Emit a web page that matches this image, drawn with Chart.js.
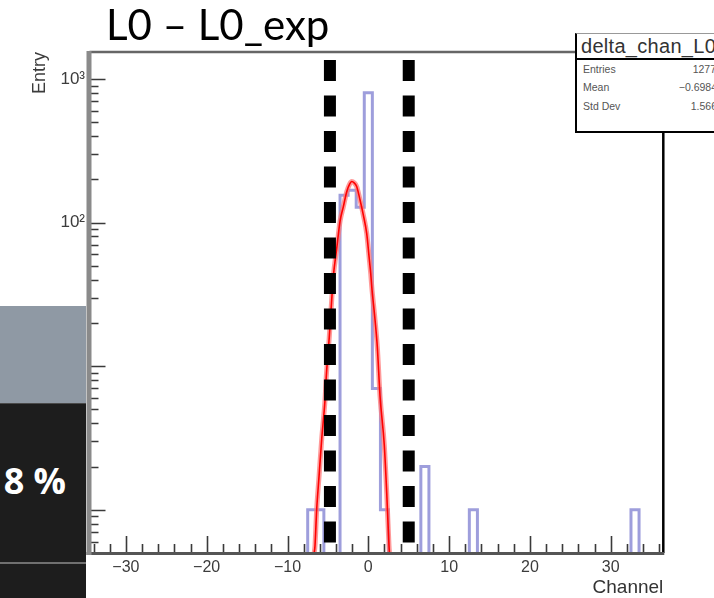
<!DOCTYPE html>
<html><head><meta charset="utf-8">
<script src="https://cdn.jsdelivr.net/npm/chart.js@4.4.0/dist/chart.umd.min.js"></script>
<style>
html,body{margin:0;padding:0;background:#fff;}
#wrap{position:relative;width:714px;height:598px;overflow:hidden;background:#fff;}
#c{position:absolute;left:0;top:0;}
.ov{position:absolute;}
.st{position:absolute;font:10.5px 'Liberation Sans',Arial,sans-serif;color:#555;white-space:nowrap;}
</style></head><body>
<div id="wrap">
<canvas id="c" width="714" height="598"></canvas>
<div class="ov" style="left:106px;top:0px;font:42px Lato,sans-serif;color:#000;line-height:48px;white-space:nowrap;">L0 – L0_exp</div>
<div class="ov" style="left:0;top:306px;width:86px;height:97px;background:#8f99a4;"></div>
<div class="ov" style="left:0;top:403px;width:86px;height:159px;background:#1d1d1d;border-top:1.5px solid #4a4a4a;"></div>
<div class="ov" style="left:0;top:562px;width:86px;height:2px;background:#707070;"></div>
<div class="ov" style="left:0;top:564px;width:86px;height:34px;background:#1d1d1d;"></div>
<div class="ov" style="left:0;top:461px;width:66px;text-align:right;font:bold 36px 'Open Sans',sans-serif;line-height:40px;color:#fff;white-space:nowrap;">8 %</div>
<div class="ov" style="left:575px;top:33px;width:160px;height:97px;background:#fff;border-left:2.5px solid #000;border-bottom:2.5px solid #000;border-top:1.5px solid #999;">
  <div style="position:absolute;left:4px;top:1px;font:20px 'Liberation Sans',Arial,sans-serif;color:#333;white-space:nowrap;letter-spacing:0.3px;">delta_chan_L0</div>
  <div style="position:absolute;left:0;top:24px;width:100%;height:1.5px;background:#000;"></div>
  <div class="st" style="left:6px;top:29px;">Entries</div>
  <div class="st" style="right:21px;top:29px;">1277</div>
  <div class="st" style="left:6px;top:47px;">Mean</div>
  <div class="st" style="right:20px;top:47px;">−0.6984</div>
  <div class="st" style="left:6px;top:66px;">Std Dev</div>
  <div class="st" style="right:20px;top:66px;">1.566</div>
</div>
</div>
<script>
// ---- data ----
const binCenters = [-7, -6, -3, -2, -1, 0, 1, 2, 7, 13, 33];
const binCounts  = [1, 1, 155, 168, 128, 800, 7, 1, 2, 1, 1];
const binWidth = 1;
const fitX = [-6.70,-6.60,-6.39,-6.10,-5.77,-5.36,-5.20,-4.83,-4.53,-4.33,-3.91,-3.50,-3.09,-2.67,-2.30,-2.05,-1.75,-1.44,-1.03,-0.62,-0.20,0.09,0.30,0.42,0.83,1.11,1.45,1.98,2.28,2.56,2.62];
const fitY = [0.5,0.56,1.0,1.7,3.1,5.8,8.5,16,29,42,66,102,129,164,186,193,189,178,144,113,84,58,44,36,21,13.7,6.2,2.8,1.3,0.56,0.5];
const cutLinesX = [-4.75, 5.0];
const cutLineY = [1355, 0.57];
const xTickValues = [-30, -20, -10, 0, 10, 20, 30];
const xTickLabels = ['−30', '−20', '−10', '0', '10', '20', '30'];
const yTickValues = [1, 10, 100, 1000];
const yTickLabels = ['1', '10', '10²', '10³'];
const X_MIN = -34.5, X_MAX = 36.5, Y_MIN = 0.5, Y_MAX = 1540;

// ---- histogram outline ----
function histOutline() {
  const pts = [];
  let prevHi = null;
  for (let i = 0; i < binCenters.length; i++) {
    const lo = binCenters[i] - binWidth / 2, hi = binCenters[i] + binWidth / 2;
    if (prevHi === null || Math.abs(lo - prevHi) > 1e-9) {
      if (prevHi !== null) { pts.push({x: prevHi, y: Y_MIN}); pts.push({x: prevHi, y: null}); }
      pts.push({x: lo, y: Y_MIN});
    }
    pts.push({x: lo, y: binCounts[i]});
    pts.push({x: hi, y: binCounts[i]});
    prevHi = hi;
  }
  pts.push({x: prevHi, y: Y_MIN});
  return pts;
}
const fitPts = fitX.map((x, i) => ({x, y: fitY[i]}));

const rootAxes = {
  id: 'rootAxes',
  afterDatasetsDraw(chart) {
    const {ctx, chartArea: a, scales: {x, y}} = chart;
    ctx.save();
    ctx.strokeStyle = '#3a3a3a';
    ctx.lineWidth = 1.6;
    ctx.beginPath();
    for (let v = -34; v <= 36; v += 2) {
      const px = Math.round(x.getPixelForValue(v)) + 0.5;
      const len = (v % 10 === 0) ? 17 : 9;
      ctx.moveTo(px, a.bottom); ctx.lineTo(px, a.bottom - len);
    }
    for (let d = -1; d <= 3; d++) {
      for (let m = 1; m <= 9; m++) {
        const v = m * Math.pow(10, d);
        if (v < Y_MIN || v > Y_MAX) continue;
        const py = Math.round(y.getPixelForValue(v)) + 0.5;
        const len = (m === 1) ? 16 : 9;
        ctx.moveTo(a.left, py); ctx.lineTo(a.left + len, py);
      }
    }
    ctx.stroke();
    // frame
    ctx.lineWidth = 2.5; ctx.strokeStyle = '#666';
    ctx.beginPath(); ctx.moveTo(a.left, a.top); ctx.lineTo(a.right, a.top); ctx.stroke();
    ctx.lineWidth = 2.5; ctx.strokeStyle = '#000';
    ctx.beginPath(); ctx.moveTo(a.right, a.top); ctx.lineTo(a.right, a.bottom); ctx.stroke();
    ctx.lineWidth = 3; ctx.strokeStyle = '#555';
    ctx.beginPath(); ctx.moveTo(a.left - 3, a.bottom + 0.5); ctx.lineTo(a.right + 1, a.bottom + 0.5); ctx.stroke();
    ctx.lineWidth = 5; ctx.strokeStyle = '#8a8a8a';
    ctx.beginPath(); ctx.moveTo(a.left - 0.5, a.top - 1); ctx.lineTo(a.left - 0.5, a.bottom + 2); ctx.stroke();
    ctx.restore();
  }
};

const datasets = [
  {label: 'hist', data: histOutline(), borderColor: '#9e9edc', borderWidth: 3, pointRadius: 0, spanGaps: false, order: 4},
  {label: 'fitHalo', data: fitPts, borderColor: 'rgba(255,120,120,0.75)', borderWidth: 5, pointRadius: 0, cubicInterpolationMode: 'monotone', order: 3},
  {label: 'fit', data: fitPts, borderColor: '#ff0000', borderWidth: 1.6, pointRadius: 0, cubicInterpolationMode: 'monotone', order: 2}
];
cutLinesX.forEach((cx, i) => datasets.push({
  label: 'cut' + i, data: cutLineY.map(v => ({x: cx, y: v})), borderColor: '#000', borderWidth: 12,
  borderDash: [21, 14.5], borderCapStyle: 'butt', pointRadius: 0, order: 0, clip: false
}));

new Chart(document.getElementById('c'), {
  type: 'line',
  data: {datasets},
  options: {
    responsive: false, animation: false, devicePixelRatio: 1,
    layout: {padding: {left: 0, right: 50.7, top: 52, bottom: 0}},
    plugins: {legend: {display: false}, tooltip: {enabled: false}, title: {display: false}},
    scales: {
      x: {
        type: 'linear', min: X_MIN, max: X_MAX,
        afterFit: s => { s.height = 45; },
        afterBuildTicks: s => { s.ticks = xTickValues.map(v => ({value: v})); },
        grid: {display: false, drawTicks: false}, border: {display: false},
        ticks: {autoSkip: false, maxRotation: 0, padding: 5, color: '#3c3c3c',
          font: {family: "'Liberation Sans', Arial, sans-serif", size: 16},
          callback: v => xTickLabels[xTickValues.indexOf(v)]},
        title: {display: true, text: 'Channel', align: 'end', color: '#333',
          font: {family: "'Liberation Sans', Arial, sans-serif", size: 19}, padding: {top: 0, bottom: -1}}
      },
      y: {
        type: 'logarithmic', min: Y_MIN, max: Y_MAX,
        afterFit: s => { s.width = 89.5; },
        afterBuildTicks: s => { s.ticks = yTickValues.map(v => ({value: v})); },
        grid: {display: false, drawTicks: false}, border: {display: false},
        ticks: {autoSkip: false, padding: 4.5, color: '#3c3c3c',
          font: {family: "'Liberation Sans', Arial, sans-serif", size: 17},
          callback: v => yTickLabels[yTickValues.indexOf(v)]},
        title: {display: true, text: 'Entry', align: 'end', color: '#3c3c3c',
          font: {family: "'Liberation Sans', Arial, sans-serif", size: 18}, padding: {top: 29, bottom: 0}}
      }
    }
  },
  plugins: [rootAxes]
});
</script>
</body></html>
